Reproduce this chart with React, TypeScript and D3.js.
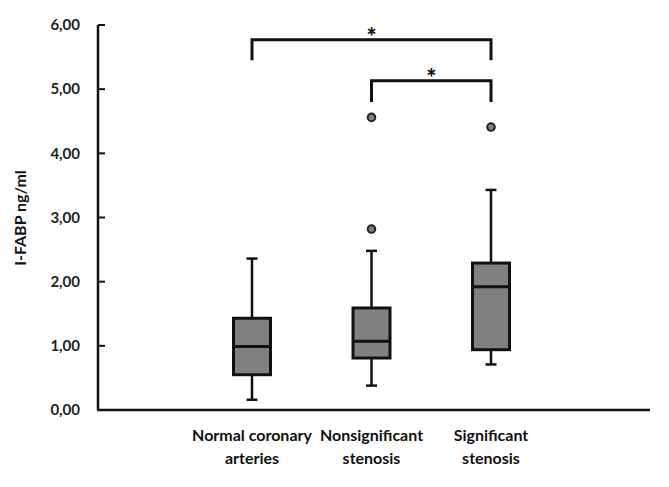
import React from "react";
import * as d3 from "d3";

const categories = ["Normal coronary arteries", "Nonsignificant stenosis", "Significant stenosis"];
const labelLines = [["Normal coronary", "arteries"], ["Nonsignificant", "stenosis"], ["Significant", "stenosis"]];
const whiskerLow = [0.16, 0.38, 0.71];
const q1 = [0.55, 0.81, 0.94];
const median = [0.99, 1.07, 1.92];
const q3 = [1.43, 1.59, 2.29];
const whiskerHigh = [2.36, 2.48, 3.43];
const outliers = [[], [2.82, 4.56], [4.41]];
const yTicks = [0, 1, 2, 3, 4, 5, 6];
const brackets = [
  { from: 0, to: 2, top: 5.77, leg: 5.45 },
  { from: 1, to: 2, top: 5.13, leg: 4.8 },
];

const W = 669, H = 487;
const font = "Lato, 'Open Sans', sans-serif";

export default function App() {
  const y = d3.scaleLinear().domain([0, 6]).range([410, 25]);
  const x = d3.scalePoint<string>().domain(categories).range([252, 491]);
  const xAxisStart = 98, xAxisEnd = 650;
  const bw = 37, cap = 11;
  const fmt = (v: number) => v.toFixed(2).replace(".", ",");
  return (
    <svg width={W} height={H} style={{ position: "absolute", left: 0, top: 0, background: "#fff" }}>
      <rect width={W} height={H} fill="#fff" />
      {/* y axis */}
      <line x1={xAxisStart} x2={xAxisStart} y1={y(6)} y2={y(0)} stroke="#111" strokeWidth={2.5} />
      {yTicks.map((t) => (
        <g key={t}>
          <line x1={xAxisStart} x2={xAxisStart + 7} y1={y(t)} y2={y(t)} stroke="#111" strokeWidth={2} />
          <text x={80} y={y(t)} dy="0.35em" textAnchor="end" fontFamily={font} fontWeight="bold" fontSize={15} fill="#222">
            {fmt(t)}
          </text>
        </g>
      ))}
      <line x1={xAxisStart - 1} x2={xAxisEnd} y1={y(0)} y2={y(0)} stroke="#111" strokeWidth={2.5} />
      <text transform={`translate(26, 218) rotate(-90)`} textAnchor="middle" fontFamily={font} fontWeight="bold" fontSize={16} fill="#111">
        I-FABP ng/ml
      </text>
      {categories.map((c, i) => {
        const cx = x(c)!;
        return (
          <g key={c}>
            <line x1={cx} x2={cx} y1={y(whiskerHigh[i])} y2={y(q3[i])} stroke="#111" strokeWidth={2.5} />
            <line x1={cx} x2={cx} y1={y(q1[i])} y2={y(whiskerLow[i])} stroke="#111" strokeWidth={2.5} />
            <line x1={cx - cap / 2} x2={cx + cap / 2} y1={y(whiskerHigh[i])} y2={y(whiskerHigh[i])} stroke="#111" strokeWidth={2.5} />
            <line x1={cx - cap / 2} x2={cx + cap / 2} y1={y(whiskerLow[i])} y2={y(whiskerLow[i])} stroke="#111" strokeWidth={2.5} />
            <rect x={cx - bw / 2} y={y(q3[i])} width={bw} height={y(q1[i]) - y(q3[i])} fill="#808080" stroke="#111" strokeWidth={3} />
            <line x1={cx - bw / 2} x2={cx + bw / 2} y1={y(median[i])} y2={y(median[i])} stroke="#111" strokeWidth={3} />
            {outliers[i].map((o, j) => (
              <circle key={j} cx={cx} cy={y(o)} r={3.8} fill="#808080" stroke="#222" strokeWidth={2} />
            ))}
            {labelLines[i].map((l, j) => (
              <text key={j} x={cx} y={441 + j * 23} textAnchor="middle" fontFamily={font} fontWeight="bold" fontSize={16} fill="#111">
                {l}
              </text>
            ))}
          </g>
        );
      })}
      {brackets.map((b, i) => {
        const x1 = x(categories[b.from])!, x2 = x(categories[b.to])!;
        return (
          <g key={i}>
            <path d={`M${x1},${y(b.leg)}V${y(b.top)}H${x2}V${y(b.leg)}`} fill="none" stroke="#111" strokeWidth={3} />
            <text x={(x1 + x2) / 2} y={y(b.top) + 6} textAnchor="middle" fontFamily={font} fontWeight="900" fontSize={24} fill="#111">
              *
            </text>
          </g>
        );
      })}
    </svg>
  );
}
